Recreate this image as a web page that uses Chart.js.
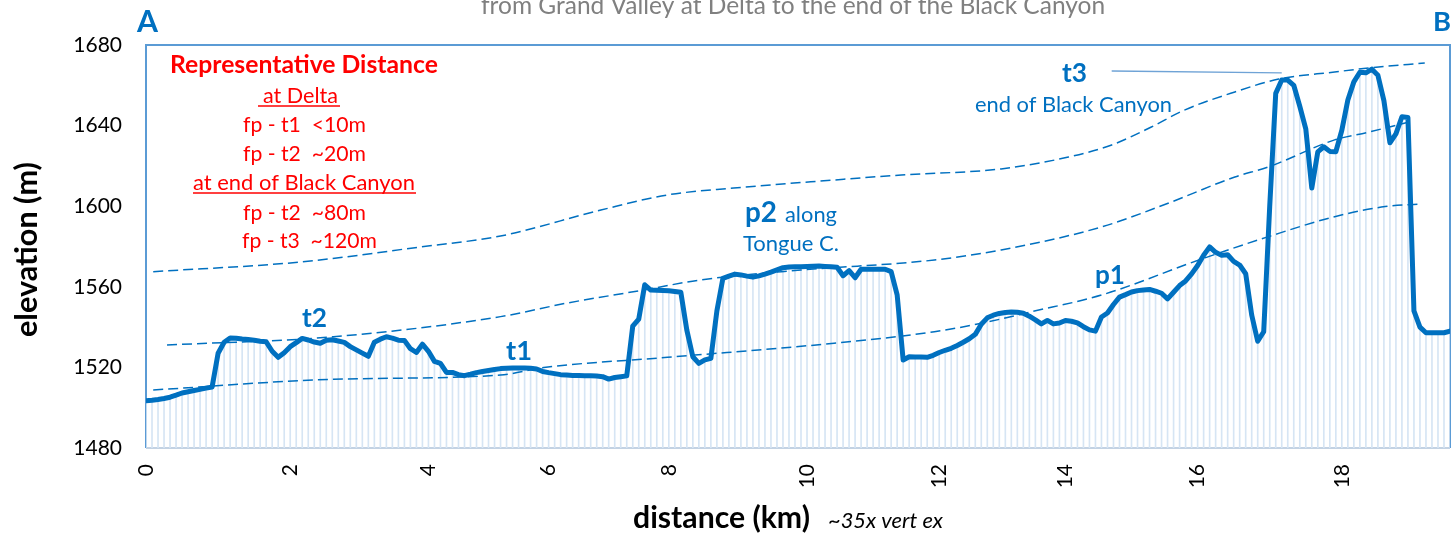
<!DOCTYPE html>
<html>
<head>
<meta charset="utf-8">
<script src="https://cdn.jsdelivr.net/npm/chart.js@4.4.1/dist/chart.umd.min.js"></script>
<style>
  body { margin: 0; background: #fff; }
  canvas { display: block; }
</style>
</head>
<body>
<canvas id="profile" width="1452" height="538"></canvas>
<script>
// elevation (m) of each profile point, in order along the valley (category index 0..217)
const elevation = [
    1503.4, 1503.7, 1504.1, 1504.6, 1505.2, 1506.2, 1507.3, 1507.9, 1508.5, 1509.1, 1509.7, 1510.3,
    1527, 1532.5, 1534.6, 1534.5, 1534.1, 1533.8, 1533.5, 1533, 1532.7, 1528, 1525, 1527.3,
    1530.3, 1532.3, 1534.4, 1533.6, 1532.6, 1532, 1533.5, 1533.7, 1533.1, 1532.4, 1530.3, 1528.7,
    1527.1, 1525.5, 1532.5, 1534, 1535.2, 1534.5, 1533.5, 1533.4, 1529.3, 1527.4, 1531.5, 1528,
    1523, 1522, 1517.5, 1517.5, 1516.4, 1515.9, 1516.6, 1517.4, 1518, 1518.5, 1519, 1519.4,
    1519.6, 1519.7, 1519.7, 1519.7, 1519.6, 1519.2, 1518, 1517.4, 1516.9, 1516.4, 1516.2, 1516,
    1516, 1515.9, 1515.8, 1515.7, 1515.4, 1514.2, 1515, 1515.4, 1515.8, 1540.5, 1544, 1561,
    1558.4, 1558.3, 1558.2, 1558, 1557.7, 1557.3, 1538.5, 1525.3, 1522, 1523.7, 1524.5, 1548,
    1564.2, 1565.3, 1566.3, 1565.9, 1565.3, 1564.8, 1565.4, 1566.3, 1567.3, 1568.4, 1569.5, 1569.8,
    1569.9, 1570, 1570.1, 1570.2, 1570.3, 1570.1, 1569.9, 1569.7, 1565.5, 1568, 1564.5, 1568.7,
    1568.7, 1568.7, 1568.7, 1568.7, 1567.5, 1556, 1523.7, 1525.3, 1525.2, 1525.1, 1525, 1526,
    1527.4, 1528.5, 1529.5, 1530.9, 1532.5, 1534.2, 1536.4, 1541.4, 1544.6, 1545.9, 1546.8, 1547.2,
    1547.5, 1547.4, 1546.9, 1545.4, 1543.6, 1541.6, 1543.3, 1541.6, 1542, 1543.3, 1542.9, 1542.1,
    1540.2, 1538.6, 1538, 1545, 1547, 1551.2, 1554.9, 1556.1, 1557.4, 1558.1, 1558.4, 1558.7,
    1557.8, 1556.8, 1554, 1557.3, 1560.6, 1562.9, 1566.4, 1570.6, 1575.7, 1579.8, 1577.1, 1575.6,
    1575.9, 1572.6, 1570.8, 1566.5, 1546, 1533, 1537.7, 1600, 1656, 1662.6, 1662.6, 1660,
    1649.6, 1638.4, 1609, 1627, 1629.5, 1627.2, 1627, 1637.7, 1652.7, 1661.7, 1666.5, 1666.2,
    1668, 1665, 1652.4, 1631.5, 1635.9, 1644.4, 1644, 1548, 1540, 1537.2, 1537.2, 1537.2,
    1537.2, 1538
];

// category axis labels: distance (km) shown at these point indices
const tickIndex = [0, 24, 47, 67, 87, 110, 132, 153, 175, 199];
const tickLabels = ['0', '2', '4', '6', '8', '10', '12', '14', '16', '18'];

// dashed terrace lines, [point index, elevation]
const terraceT3 = [[1.2, 1567.5], [25.7, 1572.3], [45.7, 1579.8], [59, 1585.2], [75.7, 1598.1],
    [86.8, 1605.6], [97.8, 1609], [114.5, 1613], [125.7, 1615.5], [142.3, 1618.5], [153.5, 1624.4],
    [160.7, 1630.4], [167.3, 1639.3], [172.8, 1647.7], [181.2, 1656.7], [188.5, 1663.1],
    [197.8, 1666.6], [203.5, 1668.6], [212.8, 1671.1]];
const terraceT2 = [[3.5, 1531.1], [31.2, 1535.2], [59, 1545.2], [70.2, 1552], [82.8, 1558.4],
    [92.3, 1563.4], [109, 1568.3], [131.2, 1573.3], [142.3, 1578.3], [159, 1589.7],
    [170.2, 1601.6], [181.2, 1614.5], [186.8, 1619.5], [197.8, 1632.9], [203.5, 1636.8],
    [210.2, 1641.8]];
const terraceT1 = [[1.2, 1508.8], [31.2, 1514.1], [59, 1516.2], [66.2, 1519.9], [86.8, 1525],
    [114.5, 1532], [131.2, 1537.7], [139.5, 1542.2], [147.3, 1547.6], [159, 1555.9],
    [175.2, 1573.3], [186.8, 1584.9], [197.8, 1594.8], [206.2, 1599.8], [212.3, 1601.1]];
const t3Leader = [[160.7, 1667.1], [189, 1666.2]];

const FONT = 'Lato, "Open Sans", sans-serif';
const BLUE = '#0070C0';

const toXY = (arr) => arr.map(p => ({x: p[0], y: p[1]}));
const profile = elevation.map((v, i) => ({x: i, y: v}));

function fitFont(ctx, text, width, weight, style) {
    ctx.font = style + ' ' + weight + ' 20px ' + FONT;
    let size = 20 * width / ctx.measureText(text).width;
    ctx.font = style + ' ' + weight + ' ' + size.toFixed(2) + 'px ' + FONT;
}

function drawText(ctx, text, x1, x2, base, weight, color, style, underline) {
    fitFont(ctx, text, x2 - x1, weight, style || 'normal');
    ctx.fillStyle = color;
    ctx.textAlign = 'left';
    ctx.textBaseline = 'alphabetic';
    ctx.fillText(text, x1, base);
    if (underline) {
        ctx.strokeStyle = color;
        ctx.lineWidth = 1.5;
        ctx.beginPath();
        ctx.moveTo(underline[0], base + 3);
        ctx.lineTo(underline[1], base + 3);
        ctx.stroke();
    }
}

const decorations = {
    id: 'decorations',
    beforeDatasetsDraw(chart) {
        const ctx = chart.ctx;
        const a = chart.chartArea;
        ctx.save();
        ctx.strokeStyle = '#C3D2E3';
        ctx.lineWidth = 2;
        ctx.beginPath();
        ctx.moveTo(a.left, a.bottom);
        ctx.lineTo(a.right, a.bottom);
        ctx.stroke();
        ctx.strokeStyle = '#5B9BD5';
        ctx.beginPath();
        ctx.moveTo(a.left, a.bottom);
        ctx.lineTo(a.left, a.top);
        ctx.lineTo(a.right, a.top);
        ctx.lineTo(a.right, a.bottom);
        ctx.stroke();
        ctx.restore();
    },
    afterDraw(chart) {
        const ctx = chart.ctx;
        ctx.save();
        drawText(ctx, 'from Grand Valley at Delta to the end of the Black Canyon', 481, 1105, 14, 'normal', '#808080');
        drawText(ctx, 'A', 137, 158, 32, 'bold', BLUE);
        drawText(ctx, 'B', 1433, 1451, 31, 'bold', BLUE);

        const RED = '#FF0000';
        drawText(ctx, 'Representative Distance', 170, 438, 73, 'bold', RED);
        drawText(ctx, 'at Delta', 263, 338, 103, 'normal', RED, null, [258, 340]);
        drawText(ctx, 'fp - t1  <10m', 243, 366, 132, 'normal', RED);
        drawText(ctx, 'fp - t2  ~20m', 243, 366, 161, 'normal', RED);
        drawText(ctx, 'at end of Black Canyon', 193, 415, 190, 'normal', RED, null, [193, 416]);
        drawText(ctx, 'fp - t2  ~80m', 243, 366, 220, 'normal', RED);
        drawText(ctx, 'fp - t3  ~120m', 242, 377, 248, 'normal', RED);

        drawText(ctx, 't2', 302, 327, 327, 'bold', BLUE);
        drawText(ctx, 't1', 506, 532, 360, 'bold', BLUE);
        drawText(ctx, 'p2', 745, 777, 222, 'bold', BLUE);
        drawText(ctx, 'along', 785, 837, 222, 'normal', BLUE);
        drawText(ctx, 'Tongue C.', 743, 839, 251, 'normal', BLUE);
        drawText(ctx, 'p1', 1095, 1125, 284, 'bold', BLUE);
        drawText(ctx, 't3', 1062, 1087, 82, 'bold', BLUE);
        drawText(ctx, 'end of Black Canyon', 975, 1172, 112, 'normal', BLUE);

        drawText(ctx, 'distance (km)', 633, 810, 528, 'bold', '#000');
        drawText(ctx, '~35x vert ex', 828, 943, 528, 'normal', '#000', 'italic');

        ctx.translate(37, 337);
        ctx.rotate(-Math.PI / 2);
        drawText(ctx, 'elevation (m)', 0, 175, 0, 'bold', '#000');
        ctx.restore();
    }
};

const dashed = (data) => ({
    type: 'line',
    data: toXY(data),
    borderColor: BLUE,
    borderWidth: 1.5,
    borderDash: [10, 5],
    pointRadius: 0,
    cubicInterpolationMode: 'monotone',
    order: 2
});

new Chart(document.getElementById('profile'), {
    type: 'line',
    data: {
        datasets: [
            {
                type: 'line',
                data: profile,
                borderColor: BLUE,
                borderWidth: 5,
                borderJoinStyle: 'round',
                borderCapStyle: 'round',
                pointRadius: 0,
                tension: 0,
                order: 0
            },
            {
                type: 'bar',
                data: profile,
                backgroundColor: '#D6E5F4',
                barThickness: 1,
                base: 1480,
                order: 5
            },
            dashed(terraceT3),
            dashed(terraceT2),
            dashed(terraceT1),
            {
                type: 'line',
                data: toXY(t3Leader),
                borderColor: '#6FA3D6',
                borderWidth: 1.3,
                pointRadius: 0,
                order: 1
            }
        ]
    },
    options: {
        responsive: false,
        animation: false,
        devicePixelRatio: 1,
        layout: {
            padding: {top: 45, right: 2, left: 0, bottom: 0}
        },
        plugins: {
            legend: {display: false},
            tooltip: {enabled: false},
            title: {display: false}
        },
        scales: {
            x: {
                type: 'linear',
                min: 0,
                max: elevation.length - 1,
                offset: false,
                grid: {display: false, drawTicks: false},
                border: {display: false},
                afterBuildTicks: (axis) => {
                    axis.ticks = tickIndex.map(v => ({value: v}));
                },
                afterFit: (axis) => {
                    axis.height = 90;
                },
                ticks: {
                    autoSkip: false,
                    minRotation: 90,
                    maxRotation: 90,
                    padding: 16,
                    color: '#000',
                    font: {family: FONT, size: 21},
                    callback: (value) => tickLabels[tickIndex.indexOf(value)]
                }
            },
            y: {
                min: 1480,
                max: 1680,
                grid: {display: false, drawTicks: false},
                border: {display: false},
                afterFit: (axis) => {
                    axis.width = 146;
                },
                ticks: {
                    stepSize: 40,
                    padding: 24,
                    color: '#000',
                    font: {family: FONT, size: 21},
                    callback: (value) => String(value)
                }
            }
        }
    },
    plugins: [decorations]
});
</script>
</body>
</html>
